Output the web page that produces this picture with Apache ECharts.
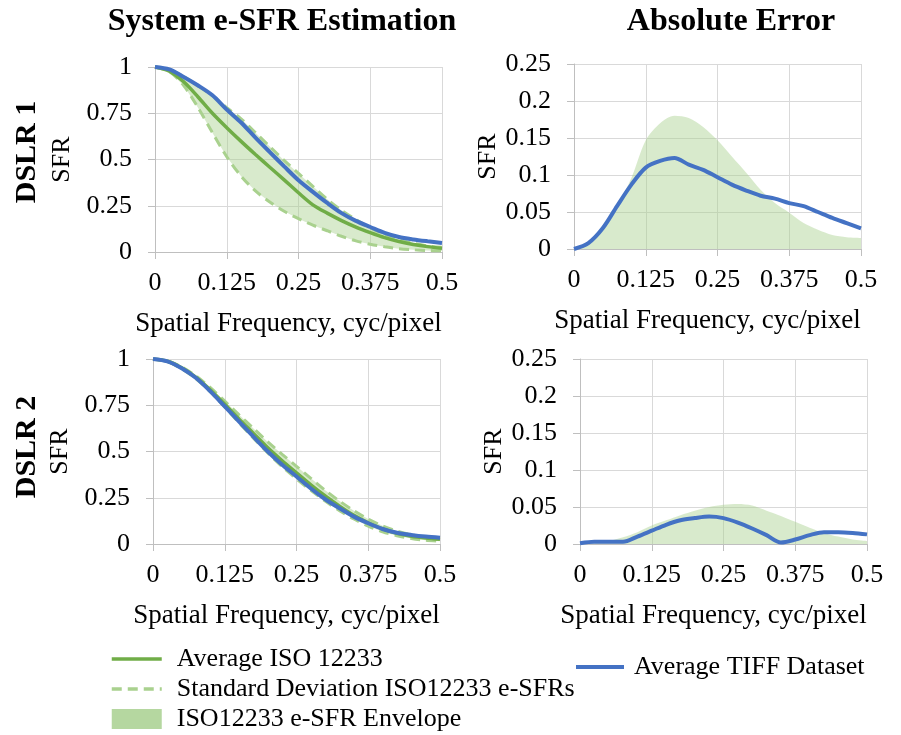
<!DOCTYPE html>
<html><head><meta charset="utf-8">
<script src="https://cdn.jsdelivr.net/npm/echarts@6/dist/echarts.min.js"></script>
<style>html,body{margin:0;padding:0;background:#fff}#c{width:901px;height:735px}</style>
</head><body><div id="c"></div>
<script>
// ---- data ----
const freq = [0,0.025,0.05,0.075,0.1,0.125,0.15,0.175,0.2,0.225,0.25,0.275,0.3,0.325,0.35,0.375,0.4,0.425,0.45,0.475,0.5];
const xTicks = [0, 0.125, 0.25, 0.375, 0.5];
const sfrTicks = [0, 0.25, 0.5, 0.75, 1];
const errTicks = [0, 0.05, 0.1, 0.15, 0.2, 0.25];

// DSLR 1 - system e-SFR
const d1Avg   = [1,0.978,0.92,0.838,0.75,0.672,0.598,0.527,0.458,0.39,0.32,0.255,0.21,0.17,0.135,0.105,0.078,0.057,0.041,0.029,0.02];
const d1StdHi = [1,0.985,0.948,0.898,0.845,0.78,0.72,0.645,0.57,0.495,0.425,0.355,0.285,0.225,0.175,0.13,0.095,0.068,0.048,0.033,0.025];
const d1StdLo = [1,0.975,0.9,0.78,0.645,0.515,0.41,0.33,0.27,0.22,0.18,0.145,0.115,0.085,0.06,0.042,0.028,0.018,0.012,0.008,0.006];
const d1Tiff  = [1,0.987,0.946,0.9,0.847,0.77,0.7,0.618,0.54,0.463,0.388,0.325,0.265,0.21,0.168,0.135,0.103,0.081,0.068,0.058,0.049];
// DSLR 1 - absolute error
const d1ErrEnv  = [0,0.006,0.026,0.058,0.096,0.147,0.17,0.18,0.177,0.165,0.147,0.125,0.103,0.08,0.062,0.049,0.035,0.026,0.019,0.016,0.015];
const d1ErrTiff = [0,0.008,0.028,0.058,0.087,0.11,0.119,0.123,0.114,0.107,0.097,0.087,0.079,0.072,0.068,0.062,0.058,0.05,0.042,0.035,0.028];

// DSLR 2 - system e-SFR
const d2Avg   = [1,0.988,0.952,0.9,0.832,0.755,0.675,0.598,0.52,0.45,0.385,0.32,0.26,0.205,0.155,0.115,0.082,0.058,0.042,0.032,0.025];
const d2StdHi = [1,0.99,0.957,0.908,0.845,0.772,0.698,0.625,0.552,0.485,0.42,0.355,0.29,0.232,0.18,0.135,0.098,0.07,0.05,0.035,0.027];
const d2StdLo = [1,0.985,0.947,0.893,0.822,0.74,0.655,0.572,0.492,0.418,0.352,0.29,0.232,0.18,0.135,0.097,0.066,0.045,0.03,0.02,0.015];
const d2Tiff  = [1,0.987,0.95,0.897,0.825,0.744,0.662,0.58,0.5,0.428,0.365,0.3,0.242,0.193,0.148,0.112,0.081,0.061,0.049,0.04,0.034];
// DSLR 2 - absolute error
const d2ErrEnv  = [0,0.001,0.004,0.009,0.016,0.025,0.032,0.039,0.045,0.05,0.053,0.054,0.052,0.045,0.038,0.03,0.022,0.015,0.01,0.006,0.004];
const d2ErrTiff = [0.001,0.003,0.003,0.003,0.01,0.018,0.026,0.032,0.035,0.037,0.035,0.029,0.021,0.012,0.002,0.006,0.012,0.016,0.016,0.015,0.013];

const names = {
  avg: 'Average ISO 12233',
  std: 'Standard Deviation ISO12233 e-SFRs',
  env: 'ISO12233 e-SFR Envelope',
  tiff: 'Average TIFF Dataset'
};
// ---- styles ----
const FONT = '"Liberation Serif", "Times New Roman", serif';
const GREEN = '#70AD47', LGREEN = '#A9D18E', BLUE = '#4472C4';
const FILL = 'rgba(169,209,142,0.45)';
const ENVC = '#B5D7A0';
const GRIDC = '#D9D9D9', AXC = '#BFBFBF';

const pairs = ys => freq.map((x, i) => [x, ys[i]]);

const grids = [
  {left: 155, top: 67, width: 287, height: 185},
  {left: 574, top: 64, width: 287, height: 185},
  {left: 153, top: 359, width: 287, height: 185},
  {left: 580, top: 359, width: 287, height: 185}
];

const fmt = v => String(+v.toFixed(3));
const xAxes = grids.map((g, i) => ({
  type: 'value', gridIndex: i, min: xTicks[0], max: xTicks[xTicks.length - 1], interval: xTicks[1] - xTicks[0],
  name: 'Spatial Frequency, cyc/pixel', nameLocation: 'middle', nameGap: 58,
  nameTextStyle: {fontFamily: FONT, fontSize: 27, color: '#000', padding: [0, 20, 0, 0]},
  axisLine: {show: true, lineStyle: {color: AXC, width: 1}},
  axisTick: {show: true, length: 7, lineStyle: {color: AXC}},
  axisLabel: {fontFamily: FONT, fontSize: 26, color: '#000', margin: 18, formatter: fmt},
  splitLine: {show: true, lineStyle: {color: GRIDC, width: 1}}
}));
const yAxes = grids.map((g, i) => {
  const t = (i % 2 === 0) ? sfrTicks : errTicks;
  return {
    type: 'value', gridIndex: i, min: t[0], max: t[t.length - 1], interval: t[1] - t[0],
    name: 'SFR', nameLocation: 'middle', nameGap: (i % 2 === 0) ? 80 : 72,
    nameTextStyle: {fontFamily: FONT, fontSize: 26, color: '#000'},
    axisLine: {show: true, lineStyle: {color: AXC, width: 1}},
    axisTick: {show: true, length: 7, lineStyle: {color: AXC}},
    axisLabel: {fontFamily: FONT, fontSize: 26, color: '#000', margin: 23, formatter: fmt},
    splitLine: {show: true, lineStyle: {color: GRIDC, width: 1}}
  };
});

const series = [];
function sfrPanel(gi, avg, hi, lo, tiff) {
  const base = {type: 'line', xAxisIndex: gi, yAxisIndex: gi, symbol: 'none', smooth: 0.3, animation: false};
  series.push({
    type: 'custom', name: names.env, xAxisIndex: gi, yAxisIndex: gi, silent: true, animation: false,
    itemStyle: {color: ENVC}, data: [[0, 0]],
    renderItem: function (params, api) {
      const top = freq.map((x, k) => api.coord([x, hi[k]]));
      const bot = freq.map((x, k) => api.coord([x, lo[k]])).reverse();
      return {type: 'polygon', shape: {points: top.concat(bot)}, style: {fill: FILL, stroke: null}};
    }
  });
  series.push(Object.assign({}, base, {name: names.std, data: pairs(hi), itemStyle: {color: LGREEN}, lineStyle: {color: LGREEN, width: 3, type: [10, 6]}}));
  series.push(Object.assign({}, base, {name: names.std, data: pairs(lo), itemStyle: {color: LGREEN}, lineStyle: {color: LGREEN, width: 3, type: [10, 6]}}));
  series.push(Object.assign({}, base, {name: names.avg, data: pairs(avg), itemStyle: {color: GREEN}, lineStyle: {color: GREEN, width: 3.5}}));
  series.push(Object.assign({}, base, {name: names.tiff, data: pairs(tiff), itemStyle: {color: BLUE}, lineStyle: {color: BLUE, width: 4}}));
}
function errPanel(gi, env, tiff) {
  const base = {type: 'line', xAxisIndex: gi, yAxisIndex: gi, symbol: 'none', smooth: 0.3, animation: false};
  series.push(Object.assign({}, base, {name: names.env, data: pairs(env), lineStyle: {opacity: 0, width: 0},
    itemStyle: {color: ENVC}, areaStyle: {color: FILL, opacity: 1}}));
  series.push(Object.assign({}, base, {name: names.tiff, data: pairs(tiff), itemStyle: {color: BLUE}, lineStyle: {color: BLUE, width: 4}}));
}
sfrPanel(0, d1Avg, d1StdHi, d1StdLo, d1Tiff);
errPanel(1, d1ErrEnv, d1ErrTiff);
sfrPanel(2, d2Avg, d2StdHi, d2StdLo, d2Tiff);
errPanel(3, d2ErrEnv, d2ErrTiff);

const txt = (text, x, y, size, bold, rot) => ({
  type: 'text', x: x, y: y, rotation: rot || 0,
  style: {text: text, font: (bold ? 'bold ' : '') + size + 'px ' + FONT, fill: '#000', textAlign: 'center', textVerticalAlign: 'middle'}
});

const option = {
  animation: false,
  backgroundColor: '#fff',
  grid: grids,
  xAxis: xAxes,
  yAxis: yAxes,
  series: series,
  legend: [
    {
      orient: 'vertical', left: 110, top: 646, height: 89, padding: 0, itemWidth: 50, itemHeight: 20, itemGap: 4,
      selectedMode: false, itemStyle: {opacity: 0}, lineStyle: {width: 3.5},
      textStyle: {fontFamily: FONT, fontSize: 26, lineHeight: 25, color: '#000', padding: [0, 0, 0, 10]},
      data: [{name: names.avg}, {name: names.std}, {name: names.env, icon: 'rect', itemStyle: {opacity: 1, color: ENVC}}]
    },
    {
      orient: 'vertical', left: 574, top: 654, padding: 0, itemWidth: 48, itemHeight: 20,
      selectedMode: false, itemStyle: {opacity: 0}, lineStyle: {width: 4},
      textStyle: {fontFamily: FONT, fontSize: 26, lineHeight: 25, color: '#000', padding: [0, 0, 0, 5]},
      data: [{name: names.tiff}]
    }
  ],
  graphic: [
    txt('System e-SFR Estimation', 282, 22, 32, true),
    txt('Absolute Error', 731, 22, 32, true),
    txt('DSLR 1', 27, 152, 30, true, Math.PI / 2),
    txt('DSLR 2', 27, 447, 30, true, Math.PI / 2)
  ]
};
const chart = echarts.init(document.getElementById('c'), null, {renderer: 'canvas'});
chart.setOption(option);
</script></body></html>
